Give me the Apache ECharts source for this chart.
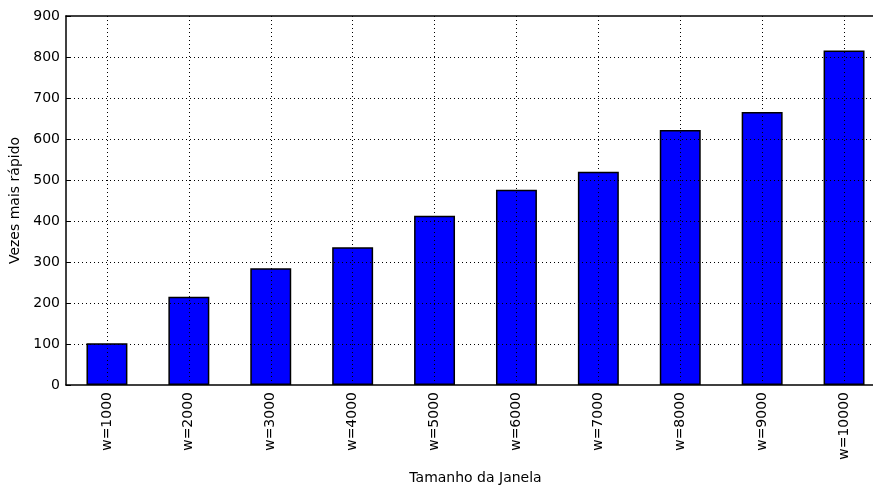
<!DOCTYPE html>
<html>
<head>
<meta charset="utf-8">
<script src="https://cdn.jsdelivr.net/npm/echarts@6/dist/echarts.min.js"></script>
<style>
  html, body { margin: 0; padding: 0; background: #fff; }
  #chart { width: 873px; height: 488px; }
</style>
</head>
<body>
<div id="chart"></div>
<script>
// Speed-up factor for each window size
const categories = ['w=1000', 'w=2000', 'w=3000', 'w=4000', 'w=5000',
                    'w=6000', 'w=7000', 'w=8000', 'w=9000', 'w=10000'];
const speedup = [102, 215, 285, 336, 413, 476, 520, 622, 666, 816];
const yTicks = [100, 200, 300, 400, 500, 600, 700, 800];

const FONT = 'DejaVu Sans';
const FONT_SIZE = 14;
const gridDots = { color: '#000', width: 1, type: [1, 3] };

// Dotted grid drawn above the bars
const gridLines = [
  ...yTicks.map(v => ({ yAxis: v })),
  ...categories.map(c => ({ xAxis: c }))
];

const chart = echarts.init(document.getElementById('chart'), null, { renderer: 'canvas' });
chart.setOption({
  animation: false,
  backgroundColor: '#fff',
  grid: {
    left: 66, top: 16, width: 819, height: 369,
    containLabel: false,
    outerBoundsMode: 'none'
  },
  xAxis: [{
    type: 'category',
    data: categories,
    position: 'bottom',
    axisLine: { lineStyle: { color: '#000', width: 1.5 } },
    axisTick: { alignWithLabel: true, inside: true, length: 5, lineStyle: { color: '#000', width: 1 } },
    axisLabel: { rotate: 90, color: '#000', fontFamily: FONT, fontSize: FONT_SIZE, margin: 7 },
    splitLine: { show: false },
    name: 'Tamanho da Janela',
    nameLocation: 'middle',
    nameGap: 86,
    nameTextStyle: { color: '#000', fontFamily: FONT, fontSize: FONT_SIZE }
  }, {
    type: 'category',
    data: categories,
    position: 'top',
    axisLine: { lineStyle: { color: '#000', width: 1.5 } },
    axisTick: { alignWithLabel: true, inside: true, length: 5, lineStyle: { color: '#000', width: 1 } },
    axisLabel: { show: false },
    splitLine: { show: false }
  }],
  yAxis: [{
    type: 'value',
    min: 0,
    max: 900,
    interval: 100,
    axisLine: { show: true, lineStyle: { color: '#000', width: 1.5 } },
    axisTick: { show: true, inside: true, length: 5, lineStyle: { color: '#000', width: 1 } },
    axisLabel: { color: '#000', fontFamily: FONT, fontSize: FONT_SIZE, margin: 6 },
    splitLine: { show: false },
    name: 'Vezes mais rápido',
    nameLocation: 'middle',
    nameGap: 44,
    nameTextStyle: { color: '#000', fontFamily: FONT, fontSize: FONT_SIZE }
  }],
  series: [{
    type: 'bar',
    data: speedup,
    barWidth: '50%',
    itemStyle: { color: '#0000ff', borderColor: '#000', borderWidth: 1.5 },
    markLine: {
      silent: true,
      symbol: ['none', 'none'],
      label: { show: false },
      lineStyle: gridDots,
      data: gridLines
    }
  }]
});
</script>
</body>
</html>
